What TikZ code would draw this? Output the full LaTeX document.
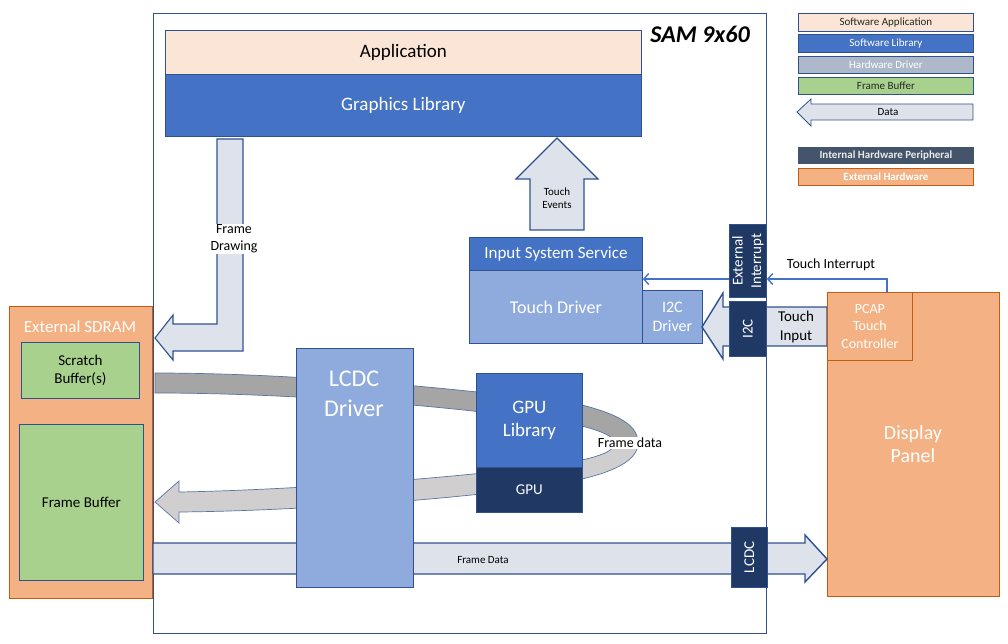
\documentclass[tikz,border=0pt]{standalone}
\usepackage{fontspec}
\setmainfont{Carlito}
\usetikzlibrary{arrows.meta}
\definecolor{navy}{HTML}{203864}
\definecolor{blueA}{HTML}{4472C4}
\definecolor{blueL}{HTML}{8FAADC}
\definecolor{peach}{HTML}{FBE5D6}
\definecolor{grn}{HTML}{A9D18E}
\definecolor{orgF}{HTML}{F4B183}
\definecolor{orgB}{HTML}{C55A11}
\definecolor{bord}{HTML}{2F528F}
\definecolor{dataF}{HTML}{DEE3EB}
\definecolor{slate}{HTML}{44546A}
\definecolor{hwd}{HTML}{ADB9CA}
\definecolor{ringD}{HTML}{A5A5A5}
\definecolor{ringL}{HTML}{D0CECE}
\begin{document}
\begin{tikzpicture}[x=1pt,y=-1pt,
  blk/.style={draw=bord, line width=0.8pt, inner sep=0pt, anchor=north west, align=center},
  ext/.style={blk, draw=orgB, fill=orgF, text=white},
  dataarrow/.style={draw=bord, line width=1.1pt, fill=dataF, line join=miter},
  lbl/.style={inner sep=1pt, align=center},
  wirearrow/.style={draw=blueA, line width=1.4pt, -{Straight Barb[length=5pt,width=11pt]}},
  f11/.style={font=\fontsize{11}{13}\selectfont},
  f11b/.style={font=\fontsize{11}{13}\selectfont\bfseries},
  f14/.style={font=\fontsize{14}{17}\selectfont},
  f15/.style={font=\fontsize{15}{18.5}\selectfont},
  f17/.style={font=\fontsize{17}{20}\selectfont},
  f19/.style={font=\fontsize{19}{23.5}\selectfont}
]
\useasboundingbox[fill=white] (0,0) rectangle (1008,644);

% SAM main box
\node[blk, minimum width=613, minimum height=620] (sam) at (153,13) {};
\node[lbl, font=\fontsize{24}{28}\selectfont\bfseries\itshape] (samT) at (700,34) {SAM 9x60};

% Application / Graphics library
\node[blk, fill=peach, minimum width=476, minimum height=44, f19] (app) at (165,30) {\raisebox{-1.5pt}{Application}};
\node[blk, fill=blueA, text=white, minimum width=476, minimum height=62, f19] (gfx) at (165,74) {\raisebox{-1.5pt}{Graphics Library}};

% Legend
\node[blk, fill=peach, text=black!85, minimum width=175, minimum height=18, f11] (lg1) at (798,13) {Software Application};
\node[blk, fill=blueA, text=white, minimum width=175, minimum height=18, f11] (lg2) at (798,34) {Software Library};
\node[blk, fill=hwd, text=white, minimum width=175, minimum height=17, f11] (lg3) at (798,56) {Hardware Driver};
\node[blk, fill=grn, text=black!85, minimum width=175, minimum height=17, f11] (lg4) at (798,77) {Frame Buffer};
\draw[dataarrow, line width=0.8pt] (797,112) -- (811,99) -- (811,104) -- (973,104) -- (973,120) -- (811,120) -- (811,126) -- cycle;
\node[lbl, f11] (lgDataT) at (888,112) {Data};
\node[blk, fill=slate, draw=slate, text=white!92!black, minimum width=175, minimum height=16, f11b] (lg5) at (798,147) {Internal Hardware Peripheral};
\node[ext, minimum width=175, minimum height=17, f11b] (lg6) at (798,168) {External Hardware};

% Frame Drawing arrow
\draw[dataarrow] (217,139) -- (243,139) -- (243,351) -- (173,351) -- (173,360) -- (155,338) -- (173,315) -- (173,324) -- (217,324) -- cycle;
\node[lbl, fill=white, f14] (fdT) at (234,239) {Frame\\Drawing};

% Touch Events arrow
\draw[dataarrow] (530,230) -- (530,179) -- (516,179) -- (557,138) -- (598,179) -- (584,179) -- (584,230) -- cycle;
\node[lbl, font=\fontsize{11}{13}\selectfont] (teT) at (557,198) {Touch\\Events};

% Input system service / touch driver
\node[blk, fill=blueA, text=white, minimum width=173, minimum height=33, f17] (isvc) at (469,237) {Input System Service};
\node[blk, fill=blueL, text=white, minimum width=173, minimum height=73, font=\fontsize{18}{22}\selectfont] (tdrv) at (469,270) {Touch Driver};
\node[blk, fill=blueL, text=white, minimum width=60, minimum height=53, font=\fontsize{16}{19}\selectfont] (i2cdrv) at (642,290) {I2C\\Driver};

% Touch Input arrow
\draw[dataarrow, line width=1.4pt] (702,327) -- (723,293) -- (723,307) -- (827,307) -- (827,346) -- (723,346) -- (723,359) -- cycle;
\node[lbl, f15] (tiT) at (796,327) {Touch\\Input};

% External Interrupt and I2C peripherals
\node[blk, fill=navy, minimum width=37, minimum height=73] (extint) at (729,224) {};
\node[lbl, rotate=90, text=white, f15] (extintT) at (extint.center) {External\\Interrupt};
\node[blk, fill=navy, minimum width=37, minimum height=55] (i2c) at (729,301) {};
\node[lbl, rotate=90, text=white, f15] (i2cT) at (i2c.center) {I2C};

% Display panel
\node[ext, minimum width=172, minimum height=304] (disp) at (827,292) {};
\node[lbl, text=white, font=\fontsize{20}{23.5}\selectfont] (dispT) at (913,444) {Display\\Panel};
\node[ext, minimum width=85, minimum height=68, font=\fontsize{14}{17.5}\selectfont] (pcap) at (827,292) {PCAP\\Touch\\Controller};

% Touch interrupt wires
\coordinate (tiS) at (887,292);
\coordinate (tiTurn) at (887,279);
\draw[wirearrow] (tiS) -- (tiTurn) -- (tiTurn -| extint.east);
\draw[wirearrow] (extint.west |- tiTurn) -- (tiTurn -| tdrv.east);
\node[lbl, f14] (tintT) at (831,265) {Touch Interrupt};

% External SDRAM
\node[ext, minimum width=143, minimum height=292] (sdram) at (9,306) {};
\node[lbl, text=white, f17] (sdramT) at (80,327) {External SDRAM};
\node[blk, fill=grn, minimum width=118, minimum height=56, f15] (scratch) at (21,342) {Scratch\\Buffer(s)};
\node[blk, fill=grn, minimum width=124, minimum height=156, f15] (fb) at (19,424) {Frame Buffer};

% Frame data ring
\filldraw[fill=ringD, draw=bord!80, line width=0.7pt]
  (155,373) .. controls (300,373) and (480,390) .. (582,405)
  .. controls (625,416) and (638,428) .. (638,443) -- (615,443)
  .. controls (615,438) and (605,432) .. (582,426)
  .. controls (480,408) and (300,393) .. (155,393) -- cycle;
\filldraw[fill=ringL, draw=bord!80, line width=0.7pt]
  (638,443) .. controls (638,458) and (620,470) .. (582,479)
  .. controls (500,497) and (300,511) .. (179,512) -- (179,523) -- (155,502) -- (179,481) -- (179,492)
  .. controls (300,490) and (500,475) .. (582,460)
  .. controls (605,455) and (615,449) .. (615,443) -- cycle;
\node[lbl, fill=white, f14] (frdT) at (630,443) {Frame data};

% Frame Data bottom arrow
\draw[dataarrow, line width=1.4pt] (153,543) -- (805,543) -- (805,535) -- (827,559) -- (805,582) -- (805,574) -- (153,574) -- cycle;
\node[lbl, font=\fontsize{11}{13}\selectfont] (frDT) at (483,560) {Frame Data};
\node[blk, fill=navy, minimum width=36, minimum height=60] (lcdc) at (731,527) {};
\node[lbl, rotate=90, text=white, f15] (lcdcT) at (lcdc.center) {LCDC};

% LCDC driver and GPU
\node[blk, fill=blueL, minimum width=117, minimum height=239] (lcdcdrv) at (296,348) {};
\node[lbl, text=white, font=\fontsize{24}{30}\selectfont] (lcdcdrvT) at (354,394) {LCDC\\Driver};
\node[blk, fill=blueA, text=white, minimum width=106, minimum height=94, f19] (gpulib) at (476,373) {GPU\\Library};
\node[blk, fill=navy, text=white, minimum width=106, minimum height=45, f15] (gpu) at (476,467) {GPU};
\end{tikzpicture}
\end{document}
